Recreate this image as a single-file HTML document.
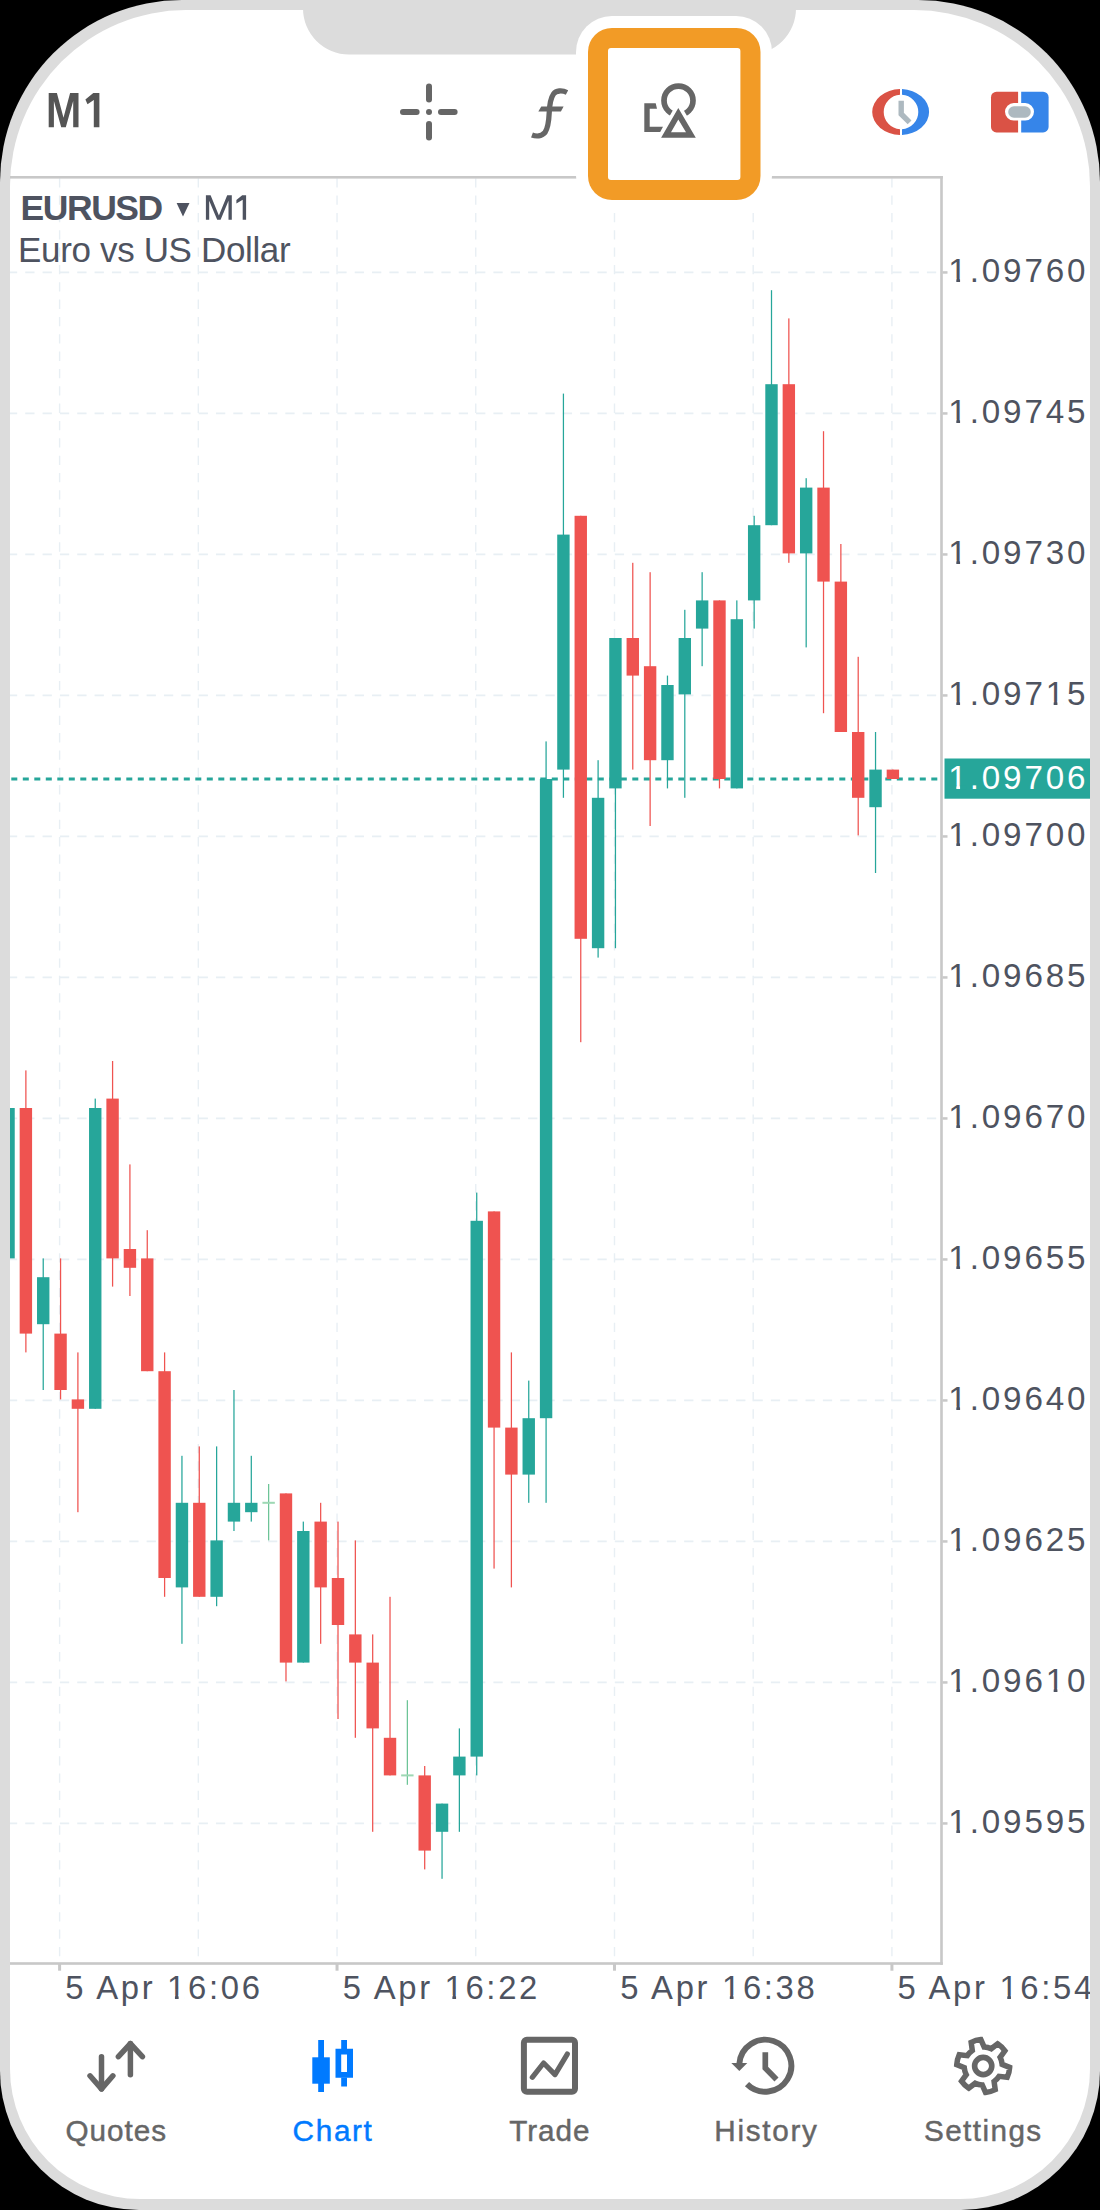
<!DOCTYPE html>
<html><head><meta charset="utf-8">
<style>
html,body{margin:0;padding:0;background:#000;width:1100px;height:2210px;overflow:hidden}
svg{display:block}
text{font-family:"Liberation Sans",sans-serif}
.pl{font-size:33.2px;fill:#4e5360}
.tl{font-size:32.8px;fill:#4e5360}
.tab{font-size:29.7px;fill:#666;stroke:#666;stroke-width:0.45px}
</style></head>
<body>
<svg width="1100" height="2210" viewBox="0 0 1100 2210">
<rect x="0" y="0" width="1100" height="2210" fill="#000"/>
<path d="M182,0 H918 A182,182 0 0 1 1100,182 V2071 A139,139 0 0 1 961,2210 H139 A139,139 0 0 1 0,2071 V182 A182,182 0 0 1 182,0 Z" fill="#dcdcdc"/>
<path d="M186,10 H914 A176,176 0 0 1 1090,186 V2069 A130,130 0 0 1 960,2199 H140 A130,130 0 0 1 10,2069 V186 A176,176 0 0 1 186,10 Z" fill="#fff"/>
<path d="M303,0 H796 V8.5 A46,46 0 0 1 750,54.5 H349 A46,46 0 0 1 303,8.5 Z" fill="#dcdcdc"/>

<!-- header -->
<path d="M48.7,127.3 V93 H56.9 L63.5,117.8 L70.1,93 H78.5 V127.3 H73.2 V101 L65.8,127.3 H61.2 L53.9,101 V127.3 Z M99.4,93 V127.3 H93.8 V100 L87.5,104.3 L85.4,99.4 L93.3,93 Z" fill="#555"/>

<!-- crosshair -->
<g stroke="#666" stroke-width="6" stroke-linecap="round" fill="none">
<line x1="429" y1="86.6" x2="429" y2="99.6"/>
<line x1="429" y1="124" x2="429" y2="137.6"/>
<line x1="403" y1="112" x2="416.6" y2="112"/>
<line x1="441" y1="112" x2="454.6" y2="112"/>
</g>
<circle cx="429" cy="112" r="3" fill="#666"/>
<!-- f -->
<path d="M567,92.5 C562,90 556,90.5 553.5,94 C550,99 549.5,106 549.2,113 C548.8,122 548,128 545,132.5 C541.5,136.5 536,136.5 532,135" stroke="#666" stroke-width="5.3" fill="none"/>
<path d="M541.3,106.5 H563.6 L560.9,111.6 H538.3 Z" fill="#666"/>

<!-- clock icon -->
<path d="M900,89.02 A29,23 0 0 0 900,134.98 L900,129.27 A17.3,17.3 0 0 1 900,94.73 Z" fill="#da5245"/>
<path d="M902,89.05 A29,23 0 0 1 902,134.95 L902,129.27 A17.3,17.3 0 0 0 902,94.73 Z" fill="#3685e9"/>
<polyline points="901.2,100.7 901.2,114 909.6,122.3" stroke="#adb9c0" stroke-width="5.4" fill="none"/>
<!-- red/blue rect icon -->
<path d="M1018.1,91.7 H996.5 A5.5,5.5 0 0 0 991,97.2 V126.9 A5.5,5.5 0 0 0 996.5,132.4 H1018.1 Z" fill="#da5245"/>
<path d="M1021.2,91.7 H1043.1 A5.5,5.5 0 0 1 1048.6,97.2 V126.9 A5.5,5.5 0 0 1 1043.1,132.4 H1021.2 Z" fill="#3685e9"/>
<rect x="1005" y="103.1" width="29" height="17.5" rx="8.75" fill="#fff"/>
<rect x="1008.2" y="106.3" width="22.6" height="11.5" rx="5.75" fill="#adb9c0"/>

<!-- chart grid -->
<defs><clipPath id="cc"><rect x="10" y="178" width="930.2" height="1784.2"/></clipPath></defs>
<g clip-path="url(#cc)">
<line x1="7.88" y1="272.40" x2="940" y2="272.40" stroke="#e8eff4" stroke-width="1.6" stroke-dasharray="9.3 8.04"/>
<line x1="7.88" y1="413.40" x2="940" y2="413.40" stroke="#e8eff4" stroke-width="1.6" stroke-dasharray="9.3 8.04"/>
<line x1="7.88" y1="554.40" x2="940" y2="554.40" stroke="#e8eff4" stroke-width="1.6" stroke-dasharray="9.3 8.04"/>
<line x1="7.88" y1="695.40" x2="940" y2="695.40" stroke="#e8eff4" stroke-width="1.6" stroke-dasharray="9.3 8.04"/>
<line x1="7.88" y1="836.40" x2="940" y2="836.40" stroke="#e8eff4" stroke-width="1.6" stroke-dasharray="9.3 8.04"/>
<line x1="7.88" y1="977.40" x2="940" y2="977.40" stroke="#e8eff4" stroke-width="1.6" stroke-dasharray="9.3 8.04"/>
<line x1="7.88" y1="1118.40" x2="940" y2="1118.40" stroke="#e8eff4" stroke-width="1.6" stroke-dasharray="9.3 8.04"/>
<line x1="7.88" y1="1259.40" x2="940" y2="1259.40" stroke="#e8eff4" stroke-width="1.6" stroke-dasharray="9.3 8.04"/>
<line x1="7.88" y1="1400.40" x2="940" y2="1400.40" stroke="#e8eff4" stroke-width="1.6" stroke-dasharray="9.3 8.04"/>
<line x1="7.88" y1="1541.40" x2="940" y2="1541.40" stroke="#e8eff4" stroke-width="1.6" stroke-dasharray="9.3 8.04"/>
<line x1="7.88" y1="1682.40" x2="940" y2="1682.40" stroke="#e8eff4" stroke-width="1.6" stroke-dasharray="9.3 8.04"/>
<line x1="7.88" y1="1823.40" x2="940" y2="1823.40" stroke="#e8eff4" stroke-width="1.6" stroke-dasharray="9.3 8.04"/>
<line x1="59.60" y1="160.86" x2="59.60" y2="1962" stroke="#e8eff4" stroke-width="1.4" stroke-dasharray="9.3 8.04"/>
<line x1="198.32" y1="160.86" x2="198.32" y2="1962" stroke="#e8eff4" stroke-width="1.4" stroke-dasharray="9.3 8.04"/>
<line x1="337.04" y1="160.86" x2="337.04" y2="1962" stroke="#e8eff4" stroke-width="1.4" stroke-dasharray="9.3 8.04"/>
<line x1="475.76" y1="160.86" x2="475.76" y2="1962" stroke="#e8eff4" stroke-width="1.4" stroke-dasharray="9.3 8.04"/>
<line x1="614.48" y1="160.86" x2="614.48" y2="1962" stroke="#e8eff4" stroke-width="1.4" stroke-dasharray="9.3 8.04"/>
<line x1="753.20" y1="160.86" x2="753.20" y2="1962" stroke="#e8eff4" stroke-width="1.4" stroke-dasharray="9.3 8.04"/>
<line x1="891.92" y1="160.86" x2="891.92" y2="1962" stroke="#e8eff4" stroke-width="1.4" stroke-dasharray="9.3 8.04"/>
</g>
<!-- axes -->
<rect x="10" y="176" width="932.8" height="2.6" fill="#c8c8c8"/>
<rect x="940.2" y="176" width="2.6" height="1788.8" fill="#c8c8c8"/>
<rect x="10" y="1962.2" width="932.8" height="2.6" fill="#c8c8c8"/>
<rect x="942.5" y="271.20" width="5" height="2.5" fill="#c8c8c8"/>
<text x="948.37" y="282.10" class="pl" textLength="137.14" lengthAdjust="spacing">1.09760</text>
<rect x="942.5" y="412.20" width="5" height="2.5" fill="#c8c8c8"/>
<text x="948.37" y="423.10" class="pl" textLength="137.14" lengthAdjust="spacing">1.09745</text>
<rect x="942.5" y="553.20" width="5" height="2.5" fill="#c8c8c8"/>
<text x="948.37" y="564.10" class="pl" textLength="137.14" lengthAdjust="spacing">1.09730</text>
<rect x="942.5" y="694.20" width="5" height="2.5" fill="#c8c8c8"/>
<text x="948.37" y="705.10" class="pl" textLength="137.14" lengthAdjust="spacing">1.09715</text>
<rect x="942.5" y="835.20" width="5" height="2.5" fill="#c8c8c8"/>
<text x="948.37" y="846.10" class="pl" textLength="137.14" lengthAdjust="spacing">1.09700</text>
<rect x="942.5" y="976.20" width="5" height="2.5" fill="#c8c8c8"/>
<text x="948.37" y="987.10" class="pl" textLength="137.14" lengthAdjust="spacing">1.09685</text>
<rect x="942.5" y="1117.20" width="5" height="2.5" fill="#c8c8c8"/>
<text x="948.37" y="1128.10" class="pl" textLength="137.14" lengthAdjust="spacing">1.09670</text>
<rect x="942.5" y="1258.20" width="5" height="2.5" fill="#c8c8c8"/>
<text x="948.37" y="1269.10" class="pl" textLength="137.14" lengthAdjust="spacing">1.09655</text>
<rect x="942.5" y="1399.20" width="5" height="2.5" fill="#c8c8c8"/>
<text x="948.37" y="1410.10" class="pl" textLength="137.14" lengthAdjust="spacing">1.09640</text>
<rect x="942.5" y="1540.20" width="5" height="2.5" fill="#c8c8c8"/>
<text x="948.37" y="1551.10" class="pl" textLength="137.14" lengthAdjust="spacing">1.09625</text>
<rect x="942.5" y="1681.20" width="5" height="2.5" fill="#c8c8c8"/>
<text x="948.37" y="1692.10" class="pl" textLength="137.14" lengthAdjust="spacing">1.09610</text>
<rect x="942.5" y="1822.20" width="5" height="2.5" fill="#c8c8c8"/>
<text x="948.37" y="1833.10" class="pl" textLength="137.14" lengthAdjust="spacing">1.09595</text>
<clipPath id="scr"><rect x="10" y="1900" width="1080" height="200"/></clipPath>
<g clip-path="url(#scr)">
<rect x="58.10" y="1963" width="3" height="7.7" fill="#c8c8c8"/>
<text x="65.30" y="1998.6" class="tl" textLength="194.6" lengthAdjust="spacing">5 Apr 16:06</text>
<rect x="335.54" y="1963" width="3" height="7.7" fill="#c8c8c8"/>
<text x="342.74" y="1998.6" class="tl" textLength="194.6" lengthAdjust="spacing">5 Apr 16:22</text>
<rect x="612.98" y="1963" width="3" height="7.7" fill="#c8c8c8"/>
<text x="620.18" y="1998.6" class="tl" textLength="194.6" lengthAdjust="spacing">5 Apr 16:38</text>
<rect x="890.42" y="1963" width="3" height="7.7" fill="#c8c8c8"/>
<text x="897.62" y="1998.6" class="tl" textLength="194.6" lengthAdjust="spacing">5 Apr 16:54</text>
</g>

<!-- symbol header -->
<text x="20.5" y="219.6" textLength="142.72" lengthAdjust="spacing" style="font-size:35.5px;font-weight:bold;fill:#4e5360">EURUSD</text>
<path d="M176.6,203 H189.5 L183,216.6 Z" fill="#4e5360"/>
<path d="M205.9,219.7 V195.2 H210.6 L218.9,215.6 L227.2,195.2 H231.8 V219.7 H228.5 V200.8 L220.6,219.7 H217.2 L209.2,200.8 V219.7 Z M242.2,195.2 H246.1 V219.7 H242.7 V199.8 L236.4,203.6 V199.9 Z" fill="#4e5360"/>
<text x="18.06" y="261.5" textLength="272.58" lengthAdjust="spacing" style="font-size:35px;fill:#4e5360">Euro vs US Dollar</text>

<!-- candles -->
<line x1="10" y1="779.1" x2="940" y2="779.1" stroke="#26a69a" stroke-width="3" stroke-dasharray="6 5.5" stroke-dashoffset="-1.3"/>

<g clip-path="url(#cc)">
<rect x="7.91" y="1108.00" width="1.25" height="150.40" fill="#26a69a"/>
<rect x="2.34" y="1108.00" width="12.4" height="150.40" fill="#26a69a"/>
<rect x="25.25" y="1070.40" width="1.25" height="282.00" fill="#ef5350"/>
<rect x="19.68" y="1108.00" width="12.4" height="225.60" fill="#ef5350"/>
<rect x="42.60" y="1258.40" width="1.25" height="131.60" fill="#26a69a"/>
<rect x="37.02" y="1277.20" width="12.4" height="47.00" fill="#26a69a"/>
<rect x="59.94" y="1258.40" width="1.25" height="141.00" fill="#ef5350"/>
<rect x="54.36" y="1333.60" width="12.4" height="56.40" fill="#ef5350"/>
<rect x="77.27" y="1352.40" width="1.25" height="159.80" fill="#ef5350"/>
<rect x="71.70" y="1399.40" width="12.4" height="9.40" fill="#ef5350"/>
<rect x="94.62" y="1098.60" width="1.25" height="310.20" fill="#26a69a"/>
<rect x="89.04" y="1108.00" width="12.4" height="300.80" fill="#26a69a"/>
<rect x="111.96" y="1061.00" width="1.25" height="225.60" fill="#ef5350"/>
<rect x="106.38" y="1098.60" width="12.4" height="159.80" fill="#ef5350"/>
<rect x="129.29" y="1164.40" width="1.25" height="131.60" fill="#ef5350"/>
<rect x="123.72" y="1249.00" width="12.4" height="18.80" fill="#ef5350"/>
<rect x="146.63" y="1230.20" width="1.25" height="141.00" fill="#ef5350"/>
<rect x="141.06" y="1258.40" width="12.4" height="112.80" fill="#ef5350"/>
<rect x="163.98" y="1352.40" width="1.25" height="244.40" fill="#ef5350"/>
<rect x="158.40" y="1371.20" width="12.4" height="206.80" fill="#ef5350"/>
<rect x="181.32" y="1455.80" width="1.25" height="188.00" fill="#26a69a"/>
<rect x="175.74" y="1502.80" width="12.4" height="84.60" fill="#26a69a"/>
<rect x="198.65" y="1446.40" width="1.25" height="150.40" fill="#ef5350"/>
<rect x="193.08" y="1502.80" width="12.4" height="94.00" fill="#ef5350"/>
<rect x="216.00" y="1446.40" width="1.25" height="159.80" fill="#26a69a"/>
<rect x="210.42" y="1540.40" width="12.4" height="56.40" fill="#26a69a"/>
<rect x="233.34" y="1390.00" width="1.25" height="141.00" fill="#26a69a"/>
<rect x="227.76" y="1502.80" width="12.4" height="18.80" fill="#26a69a"/>
<rect x="250.67" y="1455.80" width="1.25" height="65.80" fill="#26a69a"/>
<rect x="245.10" y="1502.80" width="12.4" height="9.40" fill="#26a69a"/>
<rect x="268.01" y="1484.00" width="1.25" height="56.40" fill="#6cc497"/>
<rect x="262.44" y="1501.80" width="12.4" height="2" fill="#9dd8b4"/>
<rect x="285.36" y="1493.40" width="1.25" height="188.00" fill="#ef5350"/>
<rect x="279.78" y="1493.40" width="12.4" height="169.20" fill="#ef5350"/>
<rect x="302.69" y="1521.60" width="1.25" height="141.00" fill="#26a69a"/>
<rect x="297.12" y="1531.00" width="12.4" height="131.60" fill="#26a69a"/>
<rect x="320.04" y="1502.80" width="1.25" height="141.00" fill="#ef5350"/>
<rect x="314.46" y="1521.60" width="12.4" height="65.80" fill="#ef5350"/>
<rect x="337.38" y="1521.60" width="1.25" height="197.40" fill="#ef5350"/>
<rect x="331.80" y="1578.00" width="12.4" height="47.00" fill="#ef5350"/>
<rect x="354.72" y="1540.40" width="1.25" height="197.40" fill="#ef5350"/>
<rect x="349.14" y="1634.40" width="12.4" height="28.20" fill="#ef5350"/>
<rect x="372.06" y="1634.40" width="1.25" height="197.40" fill="#ef5350"/>
<rect x="366.48" y="1662.60" width="12.4" height="65.80" fill="#ef5350"/>
<rect x="389.39" y="1596.80" width="1.25" height="178.60" fill="#ef5350"/>
<rect x="383.82" y="1737.80" width="12.4" height="37.60" fill="#ef5350"/>
<rect x="406.74" y="1700.20" width="1.25" height="84.60" fill="#6cc497"/>
<rect x="401.16" y="1774.40" width="12.4" height="2" fill="#9dd8b4"/>
<rect x="424.07" y="1766.00" width="1.25" height="103.40" fill="#ef5350"/>
<rect x="418.50" y="1775.40" width="12.4" height="75.20" fill="#ef5350"/>
<rect x="441.42" y="1803.60" width="1.25" height="75.20" fill="#26a69a"/>
<rect x="435.84" y="1803.60" width="12.4" height="28.20" fill="#26a69a"/>
<rect x="458.75" y="1728.40" width="1.25" height="103.40" fill="#26a69a"/>
<rect x="453.18" y="1756.60" width="12.4" height="18.80" fill="#26a69a"/>
<rect x="476.10" y="1192.60" width="1.25" height="582.80" fill="#26a69a"/>
<rect x="470.52" y="1220.80" width="12.4" height="535.80" fill="#26a69a"/>
<rect x="493.44" y="1211.40" width="1.25" height="357.20" fill="#ef5350"/>
<rect x="487.86" y="1211.40" width="12.4" height="216.20" fill="#ef5350"/>
<rect x="510.77" y="1352.40" width="1.25" height="235.00" fill="#ef5350"/>
<rect x="505.20" y="1427.60" width="12.4" height="47.00" fill="#ef5350"/>
<rect x="528.12" y="1380.60" width="1.25" height="122.20" fill="#26a69a"/>
<rect x="522.54" y="1418.20" width="12.4" height="56.40" fill="#26a69a"/>
<rect x="545.46" y="741.40" width="1.25" height="761.40" fill="#26a69a"/>
<rect x="539.88" y="779.00" width="12.4" height="639.20" fill="#26a69a"/>
<rect x="562.80" y="393.60" width="1.25" height="404.20" fill="#26a69a"/>
<rect x="557.22" y="534.60" width="12.4" height="235.00" fill="#26a69a"/>
<rect x="580.13" y="515.80" width="1.25" height="526.40" fill="#ef5350"/>
<rect x="574.56" y="515.80" width="12.4" height="423.00" fill="#ef5350"/>
<rect x="597.48" y="760.20" width="1.25" height="197.40" fill="#26a69a"/>
<rect x="591.90" y="797.80" width="12.4" height="150.40" fill="#26a69a"/>
<rect x="614.82" y="638.00" width="1.25" height="310.20" fill="#26a69a"/>
<rect x="609.24" y="638.00" width="12.4" height="150.40" fill="#26a69a"/>
<rect x="632.15" y="562.80" width="1.25" height="206.80" fill="#ef5350"/>
<rect x="626.58" y="638.00" width="12.4" height="37.60" fill="#ef5350"/>
<rect x="649.50" y="572.20" width="1.25" height="253.80" fill="#ef5350"/>
<rect x="643.92" y="666.20" width="12.4" height="94.00" fill="#ef5350"/>
<rect x="666.84" y="675.60" width="1.25" height="112.80" fill="#26a69a"/>
<rect x="661.26" y="685.00" width="12.4" height="75.20" fill="#26a69a"/>
<rect x="684.17" y="609.80" width="1.25" height="188.00" fill="#26a69a"/>
<rect x="678.60" y="638.00" width="12.4" height="56.40" fill="#26a69a"/>
<rect x="701.51" y="572.20" width="1.25" height="94.00" fill="#26a69a"/>
<rect x="695.94" y="600.40" width="12.4" height="28.20" fill="#26a69a"/>
<rect x="718.86" y="600.40" width="1.25" height="188.00" fill="#ef5350"/>
<rect x="713.28" y="600.40" width="12.4" height="178.60" fill="#ef5350"/>
<rect x="736.20" y="600.40" width="1.25" height="188.00" fill="#26a69a"/>
<rect x="730.62" y="619.20" width="12.4" height="169.20" fill="#26a69a"/>
<rect x="753.53" y="515.80" width="1.25" height="112.80" fill="#26a69a"/>
<rect x="747.96" y="525.20" width="12.4" height="75.20" fill="#26a69a"/>
<rect x="770.88" y="290.20" width="1.25" height="235.00" fill="#26a69a"/>
<rect x="765.30" y="384.20" width="12.4" height="141.00" fill="#26a69a"/>
<rect x="788.22" y="318.40" width="1.25" height="244.40" fill="#ef5350"/>
<rect x="782.64" y="384.20" width="12.4" height="169.20" fill="#ef5350"/>
<rect x="805.55" y="478.20" width="1.25" height="169.20" fill="#26a69a"/>
<rect x="799.98" y="487.60" width="12.4" height="65.80" fill="#26a69a"/>
<rect x="822.89" y="431.20" width="1.25" height="282.00" fill="#ef5350"/>
<rect x="817.32" y="487.60" width="12.4" height="94.00" fill="#ef5350"/>
<rect x="840.24" y="544.00" width="1.25" height="188.00" fill="#ef5350"/>
<rect x="834.66" y="581.60" width="12.4" height="150.40" fill="#ef5350"/>
<rect x="857.58" y="656.80" width="1.25" height="178.60" fill="#ef5350"/>
<rect x="852.00" y="732.00" width="12.4" height="65.80" fill="#ef5350"/>
<rect x="874.91" y="732.00" width="1.25" height="141.00" fill="#26a69a"/>
<rect x="869.34" y="769.60" width="12.4" height="37.60" fill="#26a69a"/>
<rect x="892.25" y="769.60" width="1.25" height="9.40" fill="#ef5350"/>
<rect x="886.68" y="769.60" width="12.4" height="9.40" fill="#ef5350"/>
</g>

<!-- current price line -->
<rect x="944.5" y="758.5" width="145.5" height="40.2" fill="#26a69a"/>
<text x="948.37" y="789.3" class="pl" textLength="137.14" lengthAdjust="spacing" style="fill:#fff">1.09706</text>

<!-- highlight box -->
<rect x="576" y="16" width="196" height="196" rx="36" fill="#fff"/>
<rect x="588" y="28" width="172.5" height="172" rx="24" fill="#f29b26"/>
<rect x="608" y="48" width="132.4" height="132" rx="3" fill="#fff"/>
<!-- shapes icon -->
<circle cx="678.5" cy="100.6" r="14.5" stroke="#666" stroke-width="5.7" fill="none"/>
<path d="M678.3,108 L695.8,137.7 H661.1 Z" fill="#fff" stroke="#fff" stroke-width="7" stroke-linejoin="miter"/>
<path d="M678.3,108 L695.8,137.7 H661.1 Z M678.3,119.5 L671,132.2 H686 Z" fill="#666" fill-rule="evenodd"/>
<path d="M644.3,103.3 H655.7 L657,108.7 H649.7 V126.8 H663 L660.2,132 H644.3 Z" fill="#666"/>

<!-- tab bar -->
<g stroke="#666" stroke-width="5.5" stroke-linecap="round" stroke-linejoin="round" fill="none">
<polyline points="101.5,2056.7 101.5,2088.9"/>
<polyline points="90,2075.8 101.5,2088.9 112.9,2075.8"/>
<polyline points="130.4,2074.7 130.4,2043.6"/>
<polyline points="118.4,2056.7 130.4,2043.6 142.4,2056.7"/>
</g>
<g fill="#007aff">
<rect x="318.2" y="2040" width="5.8" height="52"/>
<rect x="312.3" y="2057.3" width="17.5" height="26.4"/>
<rect x="341.2" y="2040" width="5.8" height="9"/><rect x="341.2" y="2077.5" width="5.8" height="9"/>
<path d="M335.5,2048.8 H353 V2077.7 H335.5 Z M341.2,2054.5 V2072 H347 V2054.5 Z" fill-rule="evenodd"/>
</g>
<rect x="523.9" y="2039.8" width="51.1" height="52" rx="3" stroke="#666" stroke-width="6" fill="none"/>
<polyline points="532.3,2077.3 543.6,2063 555,2074.6 567.3,2054.1" stroke="#666" stroke-width="5.2" stroke-linecap="round" stroke-linejoin="round" fill="none"/>
<path d="M739.4,2063.5 A26,26 0 1 1 747,2084.2" stroke="#666" stroke-width="5.9" fill="none"/>
<path d="M731.3,2063 H747.3 L739.3,2071.1 Z" fill="#666"/>
<polyline points="765.3,2052.2 765.3,2068 776.5,2079.4" stroke="#666" stroke-width="5.7" fill="none"/>
<path d="M1002.13,2064.34 L1009.66,2067.39 A26.5,26.5 0 0 1 1007.22,2077.20 L999.13,2076.35 A19.0,19.0 0 0 1 994.10,2081.56 L995.23,2089.61 A26.5,26.5 0 0 1 985.51,2092.40 L982.21,2084.97 A19.0,19.0 0 0 1 975.17,2083.22 L968.77,2088.22 A26.5,26.5 0 0 1 961.49,2081.20 L966.27,2074.63 A19.0,19.0 0 0 1 964.27,2067.66 L956.74,2064.61 A26.5,26.5 0 0 1 959.18,2054.80 L967.27,2055.65 A19.0,19.0 0 0 1 972.30,2050.44 L971.17,2042.39 A26.5,26.5 0 0 1 980.89,2039.60 L984.19,2047.03 A19.0,19.0 0 0 1 991.23,2048.78 L997.63,2043.78 A26.5,26.5 0 0 1 1004.91,2050.80 L1000.13,2057.37 A19.0,19.0 0 0 1 1002.13,2064.34 Z" stroke="#666" stroke-width="5.5" fill="none" stroke-linejoin="miter"/>
<circle cx="983.2" cy="2066" r="8.6" stroke="#666" stroke-width="5.6" fill="none"/>

<text x="65.45" y="2141" class="tab" textLength="100.61" lengthAdjust="spacing">Quotes</text>
<text x="292.62" y="2141" class="tab" textLength="79.25" lengthAdjust="spacing" style="fill:#007aff;stroke:#007aff">Chart</text>
<text x="509.25" y="2141" class="tab" textLength="80.28" lengthAdjust="spacing">Trade</text>
<text x="714.28" y="2141" class="tab" textLength="102.54" lengthAdjust="spacing">History</text>
<text x="923.91" y="2141" class="tab" textLength="117.29" lengthAdjust="spacing">Settings</text>
<g><rect x="949.37" y="278.50" width="6.95" height="4.20" fill="#fff"/><rect x="960.07" y="278.50" width="6.20" height="4.20" fill="#fff"/><rect x="949.37" y="419.50" width="6.95" height="4.20" fill="#fff"/><rect x="960.07" y="419.50" width="6.20" height="4.20" fill="#fff"/><rect x="949.37" y="560.50" width="6.95" height="4.20" fill="#fff"/><rect x="960.07" y="560.50" width="6.20" height="4.20" fill="#fff"/><rect x="949.37" y="701.50" width="6.95" height="4.20" fill="#fff"/><rect x="960.07" y="701.50" width="6.20" height="4.20" fill="#fff"/><rect x="1046.72" y="701.50" width="6.95" height="4.20" fill="#fff"/><rect x="1057.42" y="701.50" width="6.20" height="4.20" fill="#fff"/><rect x="949.37" y="842.50" width="6.95" height="4.20" fill="#fff"/><rect x="960.07" y="842.50" width="6.20" height="4.20" fill="#fff"/><rect x="949.37" y="983.50" width="6.95" height="4.20" fill="#fff"/><rect x="960.07" y="983.50" width="6.20" height="4.20" fill="#fff"/><rect x="949.37" y="1124.50" width="6.95" height="4.20" fill="#fff"/><rect x="960.07" y="1124.50" width="6.20" height="4.20" fill="#fff"/><rect x="949.37" y="1265.50" width="6.95" height="4.20" fill="#fff"/><rect x="960.07" y="1265.50" width="6.20" height="4.20" fill="#fff"/><rect x="949.37" y="1406.50" width="6.95" height="4.20" fill="#fff"/><rect x="960.07" y="1406.50" width="6.20" height="4.20" fill="#fff"/><rect x="949.37" y="1547.50" width="6.95" height="4.20" fill="#fff"/><rect x="960.07" y="1547.50" width="6.20" height="4.20" fill="#fff"/><rect x="949.37" y="1688.50" width="6.95" height="4.20" fill="#fff"/><rect x="960.07" y="1688.50" width="6.20" height="4.20" fill="#fff"/><rect x="1046.72" y="1688.50" width="6.95" height="4.20" fill="#fff"/><rect x="1057.42" y="1688.50" width="6.20" height="4.20" fill="#fff"/><rect x="949.37" y="1829.50" width="6.95" height="4.20" fill="#fff"/><rect x="960.07" y="1829.50" width="6.20" height="4.20" fill="#fff"/><rect x="168.07" y="1995.04" width="6.87" height="4.15" fill="#fff"/><rect x="178.64" y="1995.04" width="6.13" height="4.15" fill="#fff"/><rect x="445.51" y="1995.04" width="6.87" height="4.15" fill="#fff"/><rect x="456.08" y="1995.04" width="6.13" height="4.15" fill="#fff"/><rect x="722.95" y="1995.04" width="6.87" height="4.15" fill="#fff"/><rect x="733.52" y="1995.04" width="6.13" height="4.15" fill="#fff"/><rect x="1000.39" y="1995.04" width="6.87" height="4.15" fill="#fff"/><rect x="1010.96" y="1995.04" width="6.13" height="4.15" fill="#fff"/><rect x="949.37" y="785.70" width="6.95" height="4.20" fill="#26a69a"/><rect x="960.07" y="785.70" width="6.20" height="4.20" fill="#26a69a"/></g>
</svg>
</body></html>
